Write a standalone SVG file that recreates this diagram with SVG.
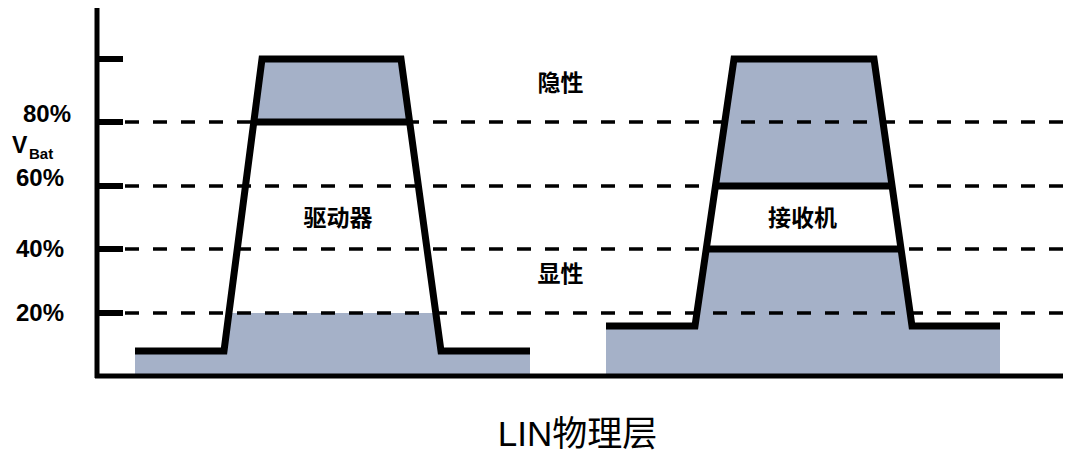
<svg xmlns="http://www.w3.org/2000/svg" width="1072" height="451" viewBox="0 0 1072 451">
  <style>
    .fill { fill: #A5B1C8; stroke: none; }
    .wave { fill: none; stroke: #000; stroke-width: 7; stroke-linejoin: miter; stroke-linecap: butt; }
    .axis { fill: none; stroke: #000; stroke-width: 5; }
    .tick { stroke: #000; stroke-width: 6; }
    .dash { stroke: #000; stroke-width: 3.5; stroke-dasharray: 14 14; }
    .pct { font-family: "Liberation Sans", Arial, sans-serif; font-weight: bold; font-size: 24px; fill: #000; }
    .cn { font-family: "Liberation Sans", "Noto Sans CJK SC", sans-serif; font-weight: bold; font-size: 23px; fill: #000; text-anchor: middle; dominant-baseline: central; }
    .title { font-family: "Liberation Sans", "Noto Sans CJK SC", sans-serif; font-size: 35px; fill: #000; text-anchor: middle; }
  </style>
  <rect width="1072" height="451" fill="#fff"/>

  <g id="driver-fill">
    <polygon class="fill" points="262,59 401,59 409.6,122 253.8,122"/>
    <polygon class="fill" points="135,376 135,351 224,351 228.9,313 435.8,313 441,351 530,351 530,376"/>
  </g>
  <g id="receiver-fill">
    <polygon class="fill" points="734,59 874,59 892.1,186 715.4,186"/>
    <polygon class="fill" points="606,376 606,326 695,326 706.2,249 901,249 912,326 1000,326 1000,376"/>
  </g>

  <g id="grid">
    <line class="dash" x1="125" y1="122" x2="1066" y2="122"/>
    <line class="dash" x1="125" y1="186" x2="1066" y2="186"/>
    <line class="dash" x1="125" y1="249" x2="1066" y2="249"/>
    <line class="dash" x1="125" y1="313" x2="1066" y2="313"/>
  </g>

  <g id="axes">
    <line class="axis" x1="97" y1="8" x2="97" y2="378"/>
    <line class="axis" x1="95" y1="376" x2="1063" y2="376"/>
    <line class="tick" x1="97" y1="59" x2="123" y2="59"/>
    <line class="tick" x1="97" y1="122" x2="123" y2="122"/>
    <line class="tick" x1="97" y1="186" x2="123" y2="186"/>
    <line class="tick" x1="97" y1="249" x2="123" y2="249"/>
    <line class="tick" x1="97" y1="313" x2="123" y2="313"/>
  </g>

  <g id="driver">
    <polyline class="wave" points="135,351 224,351 262,59 401,59 441,351 530,351"/>
    <line class="wave" x1="253.8" y1="122" x2="409.6" y2="122"/>
    <text class="cn" x="338" y="218">驱动器</text>
  </g>

  <g id="receiver">
    <polyline class="wave" points="606,326 695,326 734,59 874,59 912,326 1000,326"/>
    <line class="wave" x1="715.4" y1="186" x2="892.1" y2="186"/>
    <line class="wave" x1="706.2" y1="249" x2="901" y2="249"/>
    <text class="cn" x="802.5" y="218">接收机</text>
  </g>

  <g id="labels">
    <text class="pct" x="23" y="122">80%</text>
    <text class="pct" x="12" y="153" style="font-size:23px">V</text>
    <text class="pct" x="29" y="159" style="font-size:15px">Bat</text>
    <text class="pct" x="16" y="186">60%</text>
    <text class="pct" x="16" y="257">40%</text>
    <text class="pct" x="16" y="321">20%</text>
    <text class="cn" x="560.5" y="83">隐性</text>
    <text class="cn" x="560.5" y="274">显性</text>
    <text class="title" x="577.5" y="446">LIN物理层</text>
  </g>
</svg>
